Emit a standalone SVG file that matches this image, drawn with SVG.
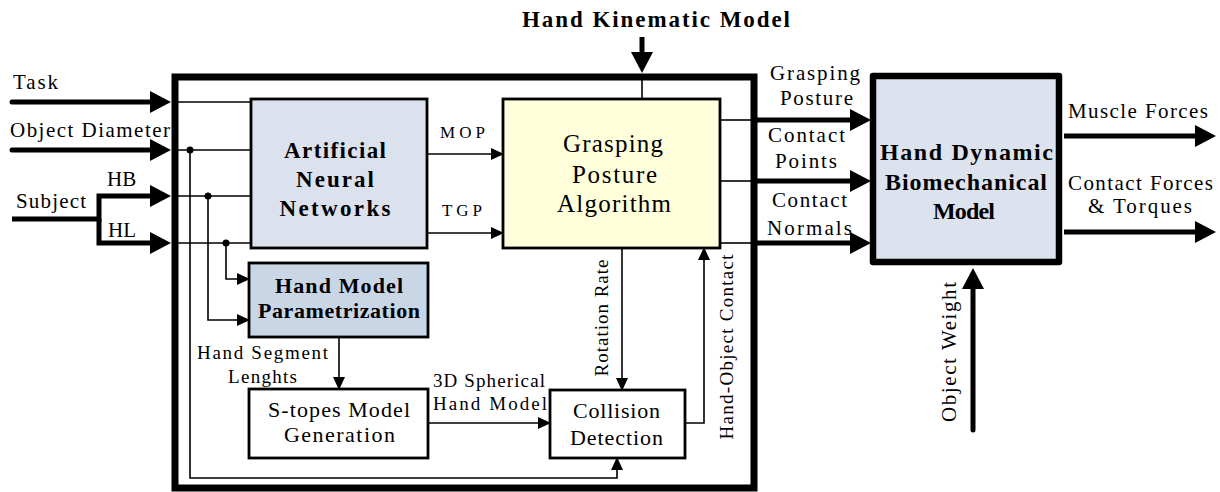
<svg xmlns="http://www.w3.org/2000/svg" width="1220" height="492" viewBox="0 0 1220 492">
<defs>
<marker id="big" markerUnits="userSpaceOnUse" markerWidth="22" markerHeight="24" refX="12" refY="11" orient="auto">
<path d="M0,0 L21,11 L0,22 z" fill="#000"/>
</marker>
<marker id="sm" markerUnits="userSpaceOnUse" markerWidth="14" markerHeight="14" refX="11" refY="6" orient="auto">
<path d="M0,0 L13,6 L0,12 z" fill="#000"/>
</marker>
<style>
text{font-family:"Liberation Serif","Times New Roman",serif;fill:#000}
.t20{font-size:21px}
.t18{font-size:19px}
.t16{font-size:17px}
.c{text-anchor:middle}
.b{font-weight:bold}
.thick{fill:none;stroke:#000;stroke-width:5;stroke-linecap:round}
.thin{fill:none;stroke:#000;stroke-width:1.6}
.box{stroke:#000;stroke-width:2.8}
</style>
</defs>
<rect id="main" x="175" y="77" width="579" height="411" fill="none" stroke="#000" stroke-width="7"/>
<g id="connectors">
<path class="thick" d="M12,102 H162" marker-end="url(#big)"/>
<path class="thick" d="M12,150 H162" marker-end="url(#big)"/>
<path class="thick" d="M12,219 H99 V196 H162" stroke-linejoin="miter" style="stroke-linecap:butt" marker-end="url(#big)"/>
<path class="thick" d="M99,219 V243 H162" style="stroke-linecap:butt" marker-end="url(#big)"/>
<path class="thick" d="M642,37 V64" style="stroke-linecap:butt" marker-end="url(#big)"/>
<path class="thick" d="M757,120 H862" style="stroke-linecap:butt" marker-end="url(#big)"/>
<path class="thick" d="M757,181 H862" style="stroke-linecap:butt" marker-end="url(#big)"/>
<path class="thick" d="M757,243 H862" style="stroke-linecap:butt" marker-end="url(#big)"/>
<path class="thick" d="M1064,136 H1207" style="stroke-linecap:butt" marker-end="url(#big)"/>
<path class="thick" d="M1064,232 H1207" style="stroke-linecap:butt" marker-end="url(#big)"/>
<path class="thick" d="M973,430 V277" marker-end="url(#big)"/>
<path class="thin" d="M178,102 H251"/>
<path class="thin" d="M178,150 H251"/>
<path class="thin" d="M178,196 H251"/>
<path class="thin" d="M178,243 H251"/>
<path class="thin" d="M190,150 V478 H617 V459" marker-end="url(#sm)"/>
<path class="thin" d="M208,196 V320 H248" marker-end="url(#sm)"/>
<path class="thin" d="M226,243 V279 H248" marker-end="url(#sm)"/>
<path class="thin" d="M427,154 H502" marker-end="url(#sm)"/>
<path class="thin" d="M427,233 H502" marker-end="url(#sm)"/>
<path class="thin" d="M339,337 V388" marker-end="url(#sm)"/>
<path class="thin" d="M428,423 H549" marker-end="url(#sm)"/>
<path class="thin" d="M622,248 V389" marker-end="url(#sm)"/>
<path class="thin" d="M685,423 H704 V249" marker-end="url(#sm)"/>
<path class="thin" d="M642,80 V99"/>
<path class="thin" d="M720,120 H752"/>
<path class="thin" d="M720,181 H752"/>
<path class="thin" d="M720,243 H752"/>
<circle cx="190" cy="150" r="3.5"/>
<circle cx="208" cy="196" r="3.5"/>
<circle cx="226" cy="243" r="3.5"/>
</g>
<g id="labels">
<text class="t20" x="13" y="89" textLength="45">Task</text>
<text class="t20" x="10" y="137" textLength="160">Object Diameter</text>
<text class="t20" x="16" y="208" textLength="70">Subject</text>
<text class="t20" x="107" y="186">HB</text>
<text class="t20" x="108" y="237">HL</text>
<text class="b c" x="656" y="27" style="font-size:23px" textLength="268">Hand Kinematic Model</text>
<text class="t16" x="440" y="138" textLength="45">MOP</text>
<text class="t16" x="442" y="216" textLength="40">TGP</text>
<text class="t18 c" x="262.5" y="359" textLength="131">Hand Segment</text>
<text class="t18 c" x="262.5" y="383" textLength="69">Lenghts</text>
<text class="t18 c" x="489" y="387" textLength="112">3D Spherical</text>
<text class="t18 c" x="490" y="410" textLength="114">Hand Model</text>
<text class="t18 c" transform="translate(608,318) rotate(-90)" textLength="117">Rotation Rate</text>
<text class="t18 c" transform="translate(733,347) rotate(-90)" textLength="185">Hand-Object Contact</text>
<text class="t20 c" x="815" y="80" textLength="90">Grasping</text>
<text class="t20 c" x="816.5" y="105" textLength="73">Posture</text>
<text class="t20 c" x="806.5" y="142" textLength="77">Contact</text>
<text class="t20 c" x="806" y="168" textLength="62">Points</text>
<text class="t20 c" x="809.5" y="207" textLength="75">Contact</text>
<text class="t20 c" x="809.5" y="235" textLength="85">Normals</text>
<text class="t20 c" x="1138" y="118" textLength="140">Muscle Forces</text>
<text class="t20 c" x="1140.5" y="190" textLength="145">Contact Forces</text>
<text class="t20 c" x="1140" y="213" textLength="104">&amp; Torques</text>
<text class="t20 c" transform="translate(956,352) rotate(-90)" textLength="140">Object Weight</text>
</g>
<g id="ann">
<rect class="box" x="251" y="99" width="176" height="149" fill="#dbe2ee"/>
<text class="b c" x="335" y="158" style="font-size:23px" textLength="102">Artificial</text>
<text class="b c" x="335" y="187" style="font-size:23px" textLength="78">Neural</text>
<text class="b c" x="335" y="216" style="font-size:23px" textLength="111">Networks</text>
</g>
<g id="hmp">
<rect class="box" x="249" y="263" width="179" height="74" fill="#c9d6e6"/>
<text class="b c" x="339" y="293" style="font-size:22px" textLength="128">Hand Model</text>
<text class="b c" x="339" y="318" style="font-size:22px" textLength="162">Parametrization</text>
</g>
<g id="stopes">
<rect class="box" x="249" y="389" width="179" height="69" fill="#fff"/>
<text class="c" x="339" y="417" style="font-size:22px" textLength="142">S-topes Model</text>
<text class="c" x="339.5" y="442" style="font-size:22px" textLength="111">Generation</text>
</g>
<g id="gpa">
<rect class="box" x="503" y="99" width="217" height="149" fill="#ffffdb"/>
<text class="c" x="613" y="152" style="font-size:25px" textLength="100">Grasping</text>
<text class="c" x="614.5" y="183" style="font-size:25px" textLength="85">Posture</text>
<text class="c" x="614" y="212" style="font-size:25px" textLength="114">Algorithm</text>
</g>
<g id="cd">
<rect class="box" x="550" y="390" width="135" height="68" fill="#fff"/>
<text class="c" x="616.5" y="418" style="font-size:22px" textLength="87">Collision</text>
<text class="c" x="616.5" y="445" style="font-size:22px" textLength="93">Detection</text>
</g>
<g id="hdbm">
<rect x="873" y="76" width="186" height="186" fill="#dce3ee" stroke="#000" stroke-width="6.5" stroke-linejoin="round"/>
<text class="b c" x="966.5" y="160" style="font-size:24px" textLength="173">Hand Dynamic</text>
<text class="b c" x="966" y="190" style="font-size:24px" textLength="162">Biomechanical</text>
<text class="b c" x="964" y="219" style="font-size:24px" textLength="62">Model</text>
</g>
</svg>
